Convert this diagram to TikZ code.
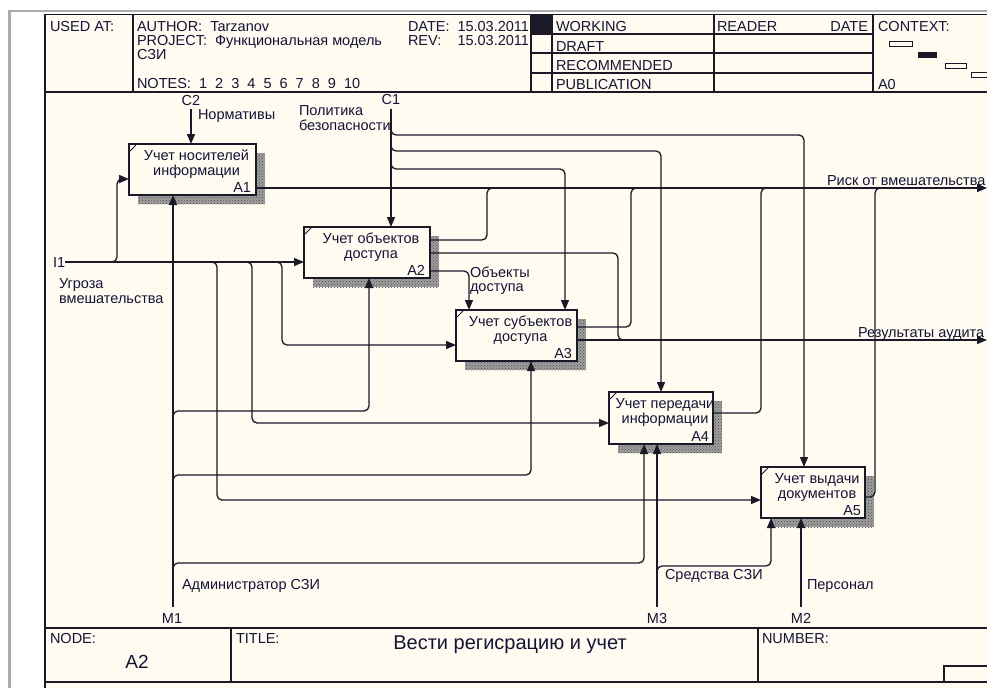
\documentclass[tikz,border=0pt]{standalone}
\usepackage{fontspec}
\setmainfont{Liberation Sans}
\usetikzlibrary{arrows.meta,patterns,calc}
\definecolor{bg}{RGB}{255,251,240}
\definecolor{ink}{RGB}{25,25,40}
\definecolor{txt}{RGB}{20,20,55}
\pgfdeclarelayer{background}
\pgfsetlayers{background,main}
\begin{document}
\begin{tikzpicture}[x=1pt,y=-1pt,
  every node/.style={inner sep=0pt, outer sep=0pt, text=txt},
  hd/.style={font=\fontsize{14.5}{16}\selectfont, anchor=base west},
  lbl/.style={font=\fontsize{14.5}{16}\selectfont, anchor=base west},
  clbl/.style={font=\fontsize{14.5}{16}\selectfont, anchor=base},
  box/.style={draw=ink, line width=1.3pt, fill=bg, anchor=north west, minimum height=51pt},
  btxt/.style={font=\fontsize{14.5}{16}\selectfont, anchor=base},
  bnum/.style={font=\fontsize{14.5}{16}\selectfont, anchor=base east},
  frm/.style={draw=ink, line width=1.4pt},
  conn/.style={draw=ink, line width=1.3pt, rounded corners=5pt},
  arr/.style={conn, -{Triangle[length=10pt,width=8pt]}},
  shade/.style={fill=black!38, postaction={pattern=crosshatch dots, pattern color=black!70}},
  cmark/.style={draw=ink, line width=0.8pt},
]
\useasboundingbox (0,0) rectangle (987,688);
\begin{pgfonlayer}{background}
  \fill[white] (0,0) rectangle (987,688);
  \fill[bg] (45,14) rectangle (987,688);
\end{pgfonlayer}
\draw[gray!65, line width=2.5pt] (9.5,688) -- (9.5,10.8) -- (987,10.8);

% ---------- frame / header ----------
\draw[frm] (45,688) -- (45,14.5) -- (987,14.5);
\draw[frm] (45,92) -- (987,92);
\draw[frm] (133,14.5) -- (133,92);
\draw[frm] (531,14.5) -- (531,92);
\draw[frm] (552,14.5) -- (552,92);
\draw[frm] (714,14.5) -- (714,92);
\draw[frm] (873,14.5) -- (873,92);
\draw[frm] (531,34) -- (873,34);
\draw[frm] (531,53) -- (873,53);
\draw[frm] (531,73) -- (873,73);
\fill[ink] (531,14.5) rectangle (552,34);

\node[hd] (usedat) at (50,31.5) {USED AT:};
\node[hd] (author) at (137,31.5) {AUTHOR:\ \ Tarzanov};
\node[hd] (project) at (137,45.5) {PROJECT:\ \ Функциональная модель};
\node[hd] (szi) at (137,59) {СЗИ};
\node[hd] (notes) at (137,88.5) {NOTES:\ \ 1\ \ 2\ \ 3\ \ 4\ \ 5\ \ 6\ \ 7\ \ 8\ \ 9\ \ 10};
\node[hd] (date) at (408,31.5) {DATE:};
\node[hd, anchor=base east] (dateval) at (529,31.5) {15.03.2011};
\node[hd] (rev) at (408,45.5) {REV:};
\node[hd, anchor=base east] (revval) at (529,45.5) {15.03.2011};
\node[hd] (working) at (556,31.5) {WORKING};
\node[hd] (draft) at (556,51.5) {DRAFT};
\node[hd] (recom) at (556,70.5) {RECOMMENDED};
\node[hd] (publ) at (556,89) {PUBLICATION};
\node[hd] (reader) at (717,31.5) {READER};
\node[hd, anchor=base east] (rdate) at (868,31.5) {DATE};
\node[hd] (context) at (878,31.5) {CONTEXT:};
\node[hd] (a0) at (878,89) {A0};
\draw[ink, line width=1pt] (889,41.5) rectangle (912,46.5);
\fill[ink] (918,52) rectangle (937,57.5);
\draw[ink, line width=1pt] (945,63) rectangle (966,68);
\draw[ink, line width=1pt] (987,72.5) -- (971,72.5) -- (971,77.5) -- (987,77.5);

% ---------- footer ----------
\draw[frm] (45,628) -- (987,628);
\draw[frm] (45,682) -- (987,682);
\draw[frm] (231,628) -- (231,682);
\draw[frm] (758,628) -- (758,682);
\draw[frm] (987,666) -- (944,666) -- (944,682);
\node[hd] (nodelbl) at (50,643) {NODE:};
\node[font=\fontsize{19}{21}\selectfont, anchor=base] (nodeval) at (137,668) {A2};
\node[hd] (titlelbl) at (236,643) {TITLE:};
\node[font=\fontsize{20}{22}\selectfont, anchor=base] (title) at (510,649) {Вести регисрацию и учет};
\node[hd] (numlbl) at (762,643) {NUMBER:};

% ---------- activity boxes ----------
\node[box, minimum width=127pt] (A1) at (129,144) {};
\node[box, minimum width=126pt] (A2) at (304,227) {};
\node[box, minimum width=121pt] (A3) at (456,310) {};
\node[box, minimum width=104pt, minimum height=52pt] (A4) at (609,392) {};
\node[box, minimum width=104pt] (A5) at (761,467) {};
\begin{pgfonlayer}{background}
  \foreach \n in {A1,A2,A3,A4,A5}
    \path[shade] ($(\n.north west)+(9,9)$) rectangle ($(\n.south east)+(9,9)$);
\end{pgfonlayer}
\foreach \n in {A1,A2,A3,A4,A5}
  \draw[cmark] ($(\n.north west)+(1,7)$) -- ($(\n.north west)+(7,1)$);

\node[btxt] (A1t1) at ($(A1.north)+(4,16)$) {Учет носителей};
\node[btxt] (A1t2) at ($(A1.north)+(4,31)$) {информации};
\node[bnum] (A1n) at ($(A1.south east)+(-5,-3)$) {A1};
\node[btxt] (A2t1) at ($(A2.north)+(4,16)$) {Учет объектов};
\node[btxt] (A2t2) at ($(A2.north)+(4,31)$) {доступа};
\node[bnum] (A2n) at ($(A2.south east)+(-5,-3)$) {A2};
\node[btxt] (A3t1) at ($(A3.north)+(4,16)$) {Учет субъектов};
\node[btxt] (A3t2) at ($(A3.north)+(4,31)$) {доступа};
\node[bnum] (A3n) at ($(A3.south east)+(-5,-3)$) {A3};
\node[btxt] (A4t1) at ($(A4.north)+(4,16)$) {Учет передачи};
\node[btxt] (A4t2) at ($(A4.north)+(4,31)$) {информации};
\node[bnum] (A4n) at ($(A4.south east)+(-4,-3)$) {A4};
\node[btxt] (A5t1) at ($(A5.north)+(4,16)$) {Учет выдачи};
\node[btxt] (A5t2) at ($(A5.north)+(4,31)$) {документов};
\node[bnum] (A5n) at ($(A5.south east)+(-4,-3)$) {A5};

% ---------- interface points ----------
\coordinate (I1) at (65,262);
\coordinate (C2) at (191,109);
\coordinate (C1) at (391,109);
\coordinate (M1) at (173,607);
\coordinate (M3) at (657,607);
\coordinate (M2) at (801,607);
\coordinate (O1) at (987,188);
\coordinate (O2) at (987,340);

% inputs
\draw[arr] (I1) -- (A2.west |- I1);
\draw[arr] (110,262) -| (117,179) -- (A1.west |- 0,179);
\draw[arr] (210,262) -| (217,500) -- (A5.west |- 0,500);
\draw[arr] (245,262) -| (252,423) -- (A4.west |- 0,423);
\draw[arr] (275,262) -| (282,345) -- (A3.west |- 0,345);
% mechanisms
\draw[arr] (M1) -- (A1.south -| M1);
\draw[arr] (173,418) |- (369,411) -- (A2.south -| 369,0);
\draw[arr] (173,482) |- (531,475) -- (A3.south -| 531,0);
\draw[arr] (173,570) |- (644,563) -- (A4.south -| 644,0);
\draw[arr] (M3) -- (A4.south -| M3);
\draw[arr] (657,573) |- (771,566) -- (A5.south -| 771,0);
\draw[arr] (M2) -- (A5.south -| M2);
% controls
\draw[arr] (C2) -- (A1.north -| C2);
\draw[arr] (C1) -- (A2.north -| C1);
\draw[arr] (391,128) |- (804,135) -- (A5.north -| 804,0);
\draw[arr] (391,144) |- (661,151) -- (A4.north -| 661,0);
\draw[arr] (391,162) |- (565,169) -- (A3.north -| 565,0);
\draw[arr] (A2.east |- 0,271) -| (A3.north -| 469,0);
% outputs
\draw[arr] (A1.east |- 0,188) -- (O1);
\draw[arr] (A3.east |- 0,340) -- (O2);
\draw[conn] (A2.east |- 0,240) -| (487,188) -- (496,188);
\draw[conn] (A2.east |- 0,253) -| (618,340) -- (627,340);
\draw[conn] (A3.east |- 0,327) -| (631,188) -- (640,188);
\draw[conn] (A4.east |- 0,413) -| (761,188) -- (770,188);
\draw[conn] (A5.east |- 0,497) -| (875,188) -- (884,188);

% ---------- labels ----------
\node[lbl] (lI1) at (53,267) {I1};
\node[clbl] (lC2) at (191,105) {C2};
\node[clbl] (lC1) at (391,104) {C1};
\node[clbl] (lM1) at (172,623.5) {M1};
\node[clbl] (lM3) at (657,623.5) {M3};
\node[clbl] (lM2) at (801,623.5) {M2};
\node[lbl] (l1) at (198,119.5) {Нормативы};
\node[lbl] (l2a) at (299,115) {Политика};
\node[lbl] (l2b) at (299,130) {безопасности};
\node[lbl] (l3) at (827,185) {Риск от вмешательства};
\node[lbl] (l4a) at (470,277) {Объекты};
\node[lbl] (l4b) at (470,291) {доступа};
\node[lbl] (l5) at (858,337) {Результаты аудита};
\node[lbl] (l6a) at (59,288) {Угроза};
\node[lbl] (l6b) at (59,303) {вмешательства};
\node[lbl] (l7) at (182,589) {Администратор СЗИ};
\node[lbl] (l8) at (665,579) {Средства СЗИ};
\node[lbl] (l9) at (807,589) {Персонал};
\end{tikzpicture}
\end{document}
